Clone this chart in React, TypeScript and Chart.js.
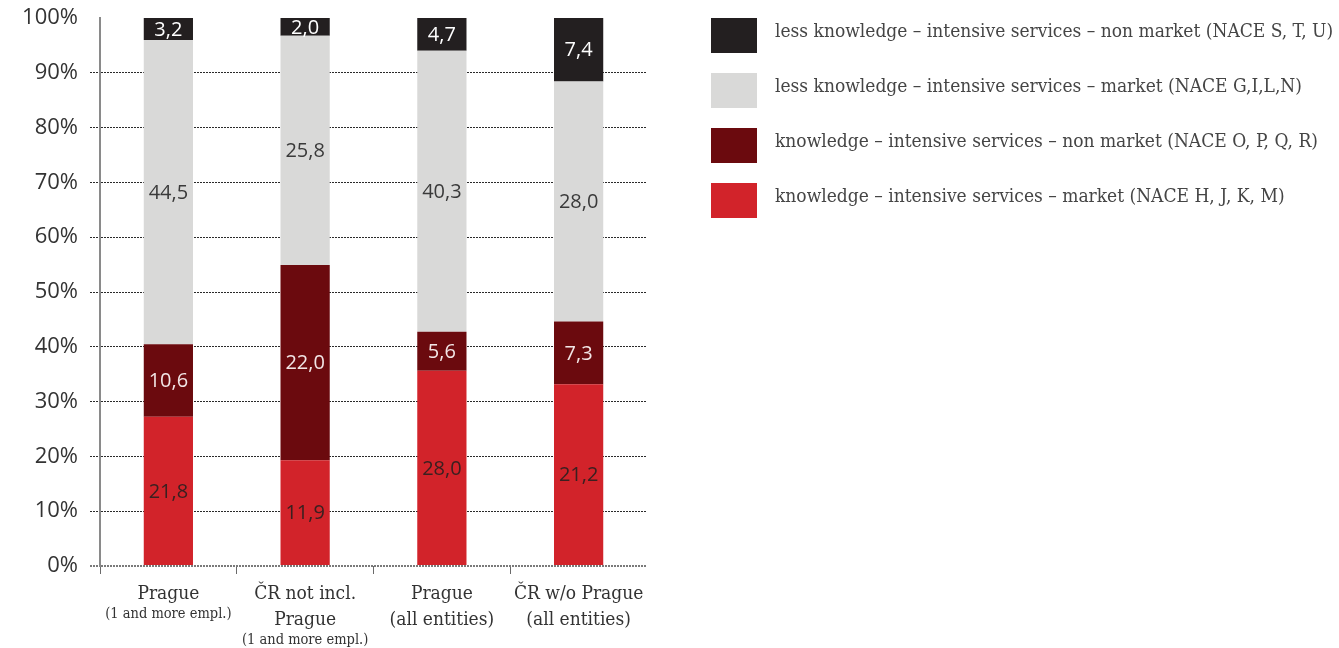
import { useEffect, useRef } from "react";
import { Chart, registerables } from "chart.js";

Chart.register(...registerables);

const categories = [
  "Prague (1 and more empl.)",
  "ČR not incl. Prague (1 and more empl.)",
  "Prague (all entities)",
  "ČR w/o Prague (all entities)",
];
const categoryMainLines = [
  ["Prague"],
  ["ČR not incl.", "Prague"],
  ["Prague", "(all entities)"],
  ["ČR w/o Prague", "(all entities)"],
];
const categoryNoteLines = ["(1 and more empl.)", "(1 and more empl.)", "", ""];

const seriesNames = [
  "knowledge – intensive services – market (NACE H, J, K, M)",
  "knowledge – intensive services – non market (NACE O, P, Q, R)",
  "less knowledge – intensive services – market (NACE G,I,L,N)",
  "less knowledge – intensive services – non market (NACE S, T, U)",
];
const kisMarket = [21.8, 11.9, 28.0, 21.2];
const kisNonMarket = [10.6, 22.0, 5.6, 7.3];
const lkisMarket = [44.5, 25.8, 40.3, 28.0];
const lkisNonMarket = [3.2, 2.0, 4.7, 7.4];

const seriesColors = ["#d2232a", "#6b0a0e", "#d9d9d8", "#231f20"];
const labelColors = ["#3a2020", "#f2e6e6", "#3a3a3a", "#ffffff"];

const yMin = 0;
const yMax = 100;
const yStep = 10;

const SANS = "'Open Sans', 'DejaVu Sans', sans-serif";
const SLAB = "'DejaVu Serif Condensed', 'DejaVu Serif', serif";

const rawSeries = [kisMarket, kisNonMarket, lkisMarket, lkisNonMarket];
const totals = categories.map((_, i) => rawSeries.reduce((s, arr) => s + arr[i], 0));

export default function App() {
  const canvasRef = useRef<HTMLCanvasElement | null>(null);

  useEffect(() => {
    const canvas = canvasRef.current;
    if (!canvas) return;

    const valueLabels = {
      id: "valueLabels",
      afterDatasetsDraw(chart: any) {
        const ctx = chart.ctx;
        ctx.save();
        ctx.font = `400 20px ${SANS}`;
        ctx.textAlign = "center";
        ctx.textBaseline = "middle";
        chart.data.datasets.forEach((ds: any, di: number) => {
          const meta = chart.getDatasetMeta(di);
          meta.data.forEach((el: any, i: number) => {
            const raw = rawSeries[di][i];
            const y = (el.y + el.base) / 2;
            ctx.fillStyle = labelColors[di];
            ctx.fillText(raw.toFixed(1).replace(".", ","), el.x, y + 1);
          });
        });
        ctx.restore();
      },
    };

    const categoryLabels = {
      id: "categoryLabels",
      afterDraw(chart: any) {
        const ctx = chart.ctx;
        const xs = chart.scales.x;
        const top = chart.chartArea.bottom;
        ctx.save();
        ctx.textAlign = "center";
        ctx.textBaseline = "middle";
        ctx.fillStyle = "#333333";
        categories.forEach((_, i) => {
          const x = xs.getPixelForValue(i);
          let y = top + 28;
          ctx.font = `19px ${SLAB}`;
          categoryMainLines[i].forEach((line, li) => {
            if (li > 0) y += 26;
            ctx.fillText(line, x, y);
          });
          if (categoryNoteLines[i]) {
            ctx.font = `14.5px ${SLAB}`;
            ctx.fillText(categoryNoteLines[i], x, y + 20);
          }
        });
        ctx.restore();
      },
    };

    const chart = new Chart(canvas, {
      type: "bar",
      data: {
        labels: categories,
        datasets: rawSeries.map((arr, di) => ({
          label: seriesNames[di],
          data: arr.map((v, i) => (v / totals[i]) * 100),
          backgroundColor: seriesColors[di],
          borderWidth: 0,
          barPercentage: 0.36,
          categoryPercentage: 1,
        })),
      },
      options: {
        animation: false,
        responsive: true,
        maintainAspectRatio: false,
        layout: { padding: { top: 18, right: 692, bottom: 0, left: 0 } },
        plugins: {
          legend: { display: false },
          tooltip: { enabled: false },
        },
        scales: {
          x: {
            stacked: true,
            afterFit: (s: any) => {
              s.height = 82;
            },
            border: { display: false },
            grid: {
              offset: true,
              drawOnChartArea: false,
              drawTicks: true,
              tickLength: 8,
              color: (c: any) =>
                c.type !== "tick" || c.index >= categories.length ? "rgba(0,0,0,0)" : "#6a6a6a",
              lineWidth: 1,
            },
            ticks: { display: false },
          },
          y: {
            stacked: true,
            min: yMin,
            max: yMax,
            afterFit: (s: any) => {
              s.width = 100;
              s.paddingTop = 0;
              s.paddingBottom = 0;
            },
            border: { display: true, color: "#8a8a8a", width: 2, dash: [2, 1] },
            grid: {
              color: (c: any) => {
                if (!c.tick) return "#2a2a2a";
                if (c.tick.value === yMax) return "rgba(0,0,0,0)";
                if (c.tick.value === yMin) return "#7a7a7a";
                return "#2a2a2a";
              },
              lineWidth: (c: any) => (c.tick && c.tick.value === yMin ? 2 : 1),
              tickLength: 10,
              tickBorderDash: [2, 1],
            },
            ticks: {
              stepSize: yStep,
              padding: 12,
              color: "#333333",
              font: { family: SANS, size: 22 },
              callback: (v: any) => `${v}%`,
            },
          },
        },
      },
      plugins: [valueLabels, categoryLabels],
    });

    return () => chart.destroy();
  }, []);

  const legendOrder = [3, 2, 1, 0];

  return (
    <div style={{ position: "absolute", left: 0, top: 0, width: 1339, height: 648, background: "#fff" }}>
      <canvas ref={canvasRef} />
      <div style={{ position: "absolute", left: 711, top: 18 }}>
        {legendOrder.map((di) => (
          <div key={di} style={{ display: "flex", alignItems: "flex-start", height: 35, marginBottom: 20 }}>
            <div style={{ width: 46, height: 35, background: seriesColors[di], flex: "none" }} />
            <div
              style={{
                marginLeft: 18,
                fontFamily: SLAB,
                fontSize: 19,
                color: "#454545",
                lineHeight: "24px",
                whiteSpace: "nowrap",
              }}
            >
              {seriesNames[di]}
            </div>
          </div>
        ))}
      </div>
    </div>
  );
}
